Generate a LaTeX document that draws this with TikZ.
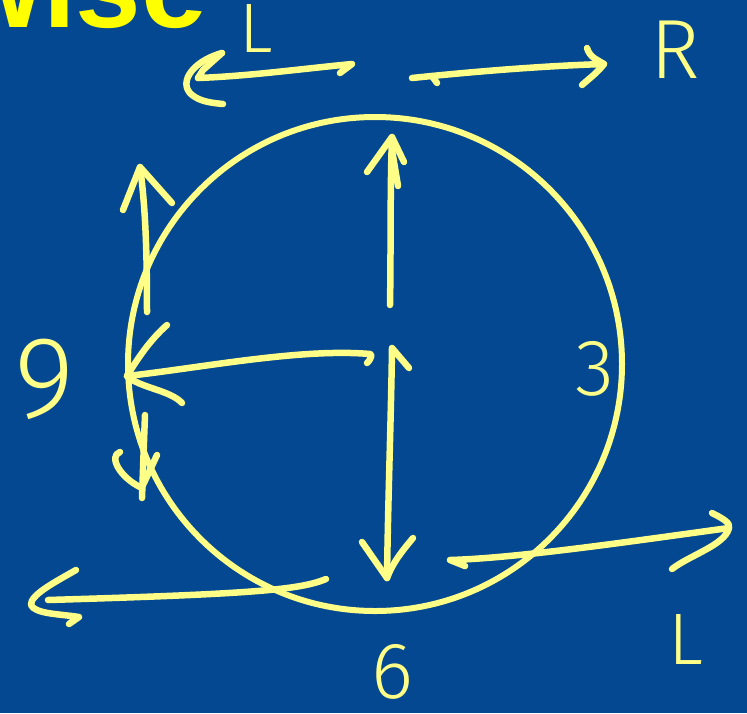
\documentclass[tikz,border=0pt]{standalone}
\usepackage{fontspec}
\newfontfamily\titlefont{Liberation Sans}
\newfontfamily\handfont{Fira Sans Light}
\definecolor{bg}{RGB}{4,72,145}
\definecolor{ink}{RGB}{255,255,136}
\definecolor{ttl}{RGB}{255,255,0}
\begin{document}
\begin{tikzpicture}[x=1pt,y=-1pt,
  pen/.style={draw=ink,line width=6.5pt,line cap=round,line join=round},
  lbl/.style={text=ink,inner sep=0pt,anchor=base}]
\useasboundingbox (0,0) rectangle (747,713);
\clip (0,0) rectangle (747,713);
\fill[bg] (0,0) rectangle (747,713);
\node[anchor=base west,inner sep=0pt,text=ttl,font={\titlefont\bfseries\fontsize{118pt}{118pt}\selectfont}] (title) at (-49,27) {wise};
% clock face
\node[circle,draw=ink,line width=6pt,minimum size=494pt,inner sep=0pt] (clock) at (375,364) {};
% labels
\node[lbl,font={\handfont\fontsize{70pt}{70pt}\selectfont}] (Ltop) at (256,52) {L};
\node[lbl,font={\handfont\fontsize{84pt}{84pt}\selectfont}] (Rtop) at (675,78) {R};
\node[lbl,font={\handfont\fontsize{116pt}{116pt}\selectfont}] (nine) at (45,417) {9};
\node[lbl,font={\handfont\fontsize{80pt}{80pt}\selectfont}] (three) at (595,395) {3};
\node[lbl,font={\handfont\fontsize{80pt}{80pt}\selectfont}] (six) at (392,698) {6};
\node[lbl,font={\handfont\fontsize{73pt}{73pt}\selectfont}] (Lbot) at (686,664) {L};
% top-left arrow
\coordinate (tlS) at (352,64);
\coordinate (tlE) at (198,78);
\draw[pen] (340,73) -- (tlS) .. controls (300,69) and (250,76) .. (tlE);
\draw[pen] (222,53) -- (203,70) -- (tlE);
\draw[pen] (222,53) .. controls (190,62) and (176,86) .. (195,97) .. controls (203,102) and (213,103) .. (223,104);
% top-right arrow
\coordinate (trS) at (412,78);
\coordinate (trE) at (604,64);
\draw[pen] (437,83) -- (432,76);
\draw[pen] (trS) .. controls (470,72) and (540,66) .. (trE);
\draw[pen] (587,48) .. controls (590,58) and (598,60) .. (trE) .. controls (598,72) and (590,78) .. (582,85);
% centre up arrow
\coordinate (cuS) at (390,305);
\coordinate (cuE) at (392,137);
\draw[pen] (cuS) .. controls (391,250) and (390,190) .. (cuE);
\draw[pen] (367,172) -- (cuE) -- (404,162);
\draw[pen] (392,150) -- (398,186);
% centre down arrow
\coordinate (cdS) at (392,348);
\coordinate (cdE) at (387,578);
\draw[pen] (409,368) -- (cdS) .. controls (391,420) and (388,500) .. (cdE);
\draw[pen] (362,542) -- (cdE);
\draw[pen] (413,538) .. controls (403,550) and (393,562) .. (cdE);
% arrow to 9
\coordinate (nS) at (370,354);
\coordinate (nE) at (127,376);
\draw[pen] (367,363) .. controls (372,358) and (372,354) .. (nS) .. controls (300,348) and (200,368) .. (nE);
\draw[pen] (167,325) .. controls (150,340) and (138,358) .. (nE);
\draw[pen] (nE) .. controls (140,388) and (170,390) .. (182,403);
% left up arrow
\coordinate (luS) at (147,312);
\coordinate (luE) at (140,167);
\draw[pen] (luS) .. controls (147,260) and (146,210) .. (luE);
\draw[pen] (123,210) -- (luE) -- (172,203);
% left down arrow
\coordinate (ldS) at (145,415);
\coordinate (ldE) at (142,498);
\draw[pen] (ldS) .. controls (144,440) and (143,470) .. (ldE);
\draw[pen] (120,452) .. controls (108,456) and (120,478) .. (142,488);
\draw[pen] (157,455) -- (143,485);
% bottom-left arrow
\coordinate (blS) at (326,579);
\coordinate (blE) at (48,600);
\draw[pen] (blS) .. controls (300,590) and (250,594) .. (blE);
\draw[pen] (76,570) .. controls (55,582) and (30,595) .. (31,605) .. controls (35,614) and (60,614) .. (79,617) -- (69,624);
% bottom-right arrow
\coordinate (brS) at (450,560);
\coordinate (brE) at (729,528);
\draw[pen] (465,566) -- (brS) .. controls (520,558) and (640,540) .. (brE);
\draw[pen] (712,513) .. controls (722,518) and (731,523) .. (brE) .. controls (725,545) and (690,555) .. (672,569);
\end{tikzpicture}
\end{document}
